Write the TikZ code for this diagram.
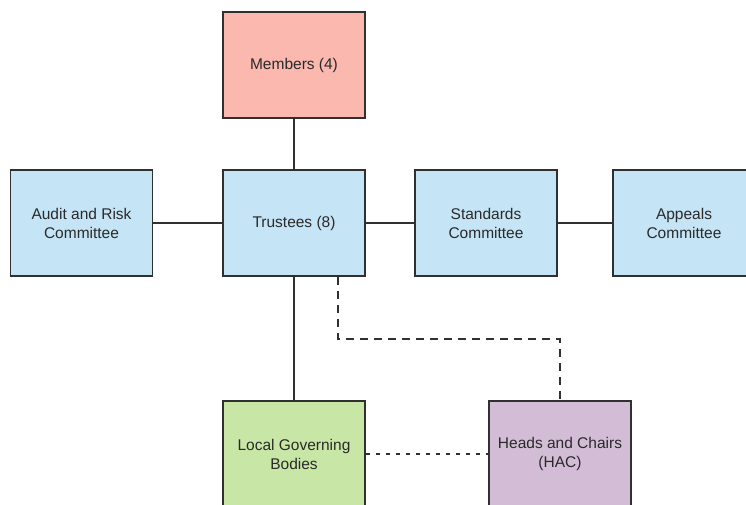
\documentclass[tikz,border=0pt]{standalone}
\usepackage{fontspec}
\setmainfont{Liberation Sans}
\begin{document}
\begin{tikzpicture}[x=1pt,y=-1pt,
  box/.style={draw=boxline,line width=1.6pt,minimum width=142pt,minimum height=106pt,
    inner sep=0pt,align=center,text=textcol,font=\fontsize{15.5}{19}\selectfont},
  conn/.style={draw=boxline,line width=1.6pt},
  dashconn/.style={conn,dash pattern=on 8pt off 6pt},
  dotconn/.style={conn,dash pattern=on 4pt off 6pt}]
\definecolor{boxline}{HTML}{303030}
\definecolor{textcol}{HTML}{2A2A2A}
\definecolor{pinkfill}{HTML}{FAB8AE}
\definecolor{bluefill}{HTML}{C5E4F6}
\definecolor{greenfill}{HTML}{C8E7A7}
\definecolor{purplefill}{HTML}{D2BCD6}
\useasboundingbox (0,0) rectangle (746,504);
\clip (0,0) rectangle (746,504);
\fill[white] (0,0) rectangle (746,504);
\node[box,fill=pinkfill] (members) at (294,65) {Members (4)};
\node[box,fill=bluefill] (trustees) at (294,223) {Trustees (8)};
\node[box,fill=bluefill] (audit) at (81.5,223) {Audit and Risk\\Committee};
\node[box,fill=bluefill] (standards) at (486,223) {Standards\\Committee};
\node[box,fill=bluefill] (appeals) at (684,223) {Appeals\\Committee};
\node[box,fill=greenfill] (lgb) at (294,454) {Local Governing\\Bodies};
\node[box,fill=purplefill] (hac) at (560,454) {Heads and Chairs\\(HAC)};
\draw[conn] (members) -- (trustees);
\draw[conn] (audit) -- (trustees);
\draw[conn] (trustees) -- (standards);
\draw[conn] (standards) -- (appeals);
\draw[conn] (trustees) -- (lgb);
\draw[dashconn] ([xshift=44pt]trustees.south) -- ++(0,62) -| (hac.north);
\draw[dotconn] (lgb) -- (hac);
\end{tikzpicture}
\end{document}
